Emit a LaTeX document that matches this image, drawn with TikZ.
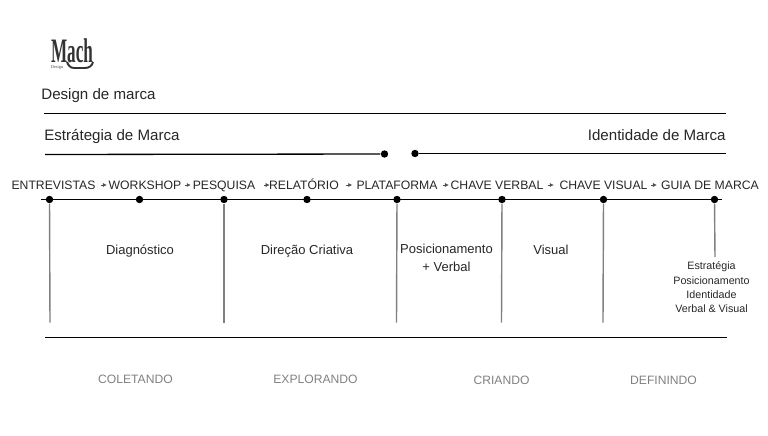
\documentclass[tikz,border=0pt]{standalone}
\usepackage{fontspec}
\usetikzlibrary{arrows.meta}
\setmainfont{Liberation Sans}
\newfontfamily\logofont{Liberation Serif}
\tikzset{>=latex}
\colorlet{txtcol}{black!85}
\colorlet{stemcol}{black!50}
\colorlet{phasecol}{black!50}
\tikzset{
  stage/.style={inner sep=0,anchor=base,text=txtcol,font=\fontsize{6.95}{9}\selectfont},
  head/.style={inner sep=0,text=txtcol,font=\fontsize{8.6}{10}\selectfont},
  note/.style={inner sep=0,text=txtcol,align=center,font=\fontsize{7.4}{10.2}\selectfont},
  phase/.style={inner sep=0,anchor=base,text=phasecol,font=\fontsize{6.9}{9}\selectfont},
  small/.style={inner sep=0,text=txtcol,align=center,font=\fontsize{6.1}{8.2}\selectfont},
  dot/.style={circle,fill=black,inner sep=0,minimum size=4.2pt},
  rulemain/.style={black,line width=0.75pt},
  stem/.style={stemcol,line width=0.8pt},
  step arrow/.style={-{Latex[length=2.2pt,width=2.2pt]},black!70,line width=0.25pt},
}
\begin{document}
\begin{tikzpicture}[x=0.02cm,y=-0.02cm]
  \useasboundingbox (0,0) rectangle (768,436);

  % LOGO
  \node[inner sep=0,anchor=base,text=black!80,font=\logofont\bfseries\fontsize{15}{15}\selectfont,xscale=0.65,yscale=1.3]
    (logo) at (72,62) {Mach};
  \node[inner sep=0,anchor=base,text=black!70,font=\logofont\fontsize{2.5}{3}\selectfont]
    (logosub) at (57,68.5) {Design};
  \draw[black!80,line width=1.1pt] (67,62) to[out=-70,in=180] (74,68) -- (85,68) to[out=0,in=-100] (93,62);

  % HEADERS
  \node[head,anchor=base west] (design) at (41,99) {Design de marca};
  \node[head,anchor=base west] (estr)   at (44,140) {Estrátegia de Marca};
  \node[head,anchor=base east] (ident)  at (726,140) {Identidade de Marca};

  \coordinate (topL) at (44,113.5);
  \coordinate (topR) at (726,113.5);
  \coordinate (estrL) at (45,154.5);
  \coordinate (identR) at (726,153.5);
  \node[dot] (estrE)  at (384.5,154) {};
  \node[dot] (identE) at (415,153.5) {};
  \draw[rulemain] (topL) -- (topR);
  \draw[rulemain] (estrL) -- (estrE);
  \draw[rulemain] (identE) -- (identR);

  % STAGES
  \node[stage] (s1) at (53.5,189.5) {ENTREVISTAS};
  \node[stage] (s2) at (145,189.5) {WORKSHOP};
  \node[stage] (s3) at (224,189.5) {PESQUISA};
  \node[stage] (s4) at (304,189.5) {RELATÓRIO};
  \node[stage] (s5) at (397,189.5) {PLATAFORMA};
  \node[stage] (s6) at (497,189.5) {CHAVE VERBAL};
  \node[stage] (s7) at (603.5,189.5) {CHAVE VISUAL};
  \node[stage] (s8) at (710,189.5) {GUIA DE MARCA};
  \foreach \from/\gap in {s1/5,s2/3,s3/8,s4/7,s5/5,s6/4,s7/3}{
    \draw[step arrow] (\from.base east) ++(\gap,-4.5) -- ++(6,0);
  }

  % TIMELINE
  \coordinate (lineL) at (41,199.5);
  \coordinate (lineR) at (722,199.5);
  \draw[rulemain] (lineL) -- (lineR);
  \foreach \name/\x in {a/49.5,b/139.5,c/224,d/307,e/397,f/502,g/603.5,h/714.5}{
    \node[dot] (\name) at (\x,199.5) {};
  }
  \foreach \name/\x/\yy in {a/50/322.5,c/224/322.5,e/396.5/322.5,f/501.5/322.5,g/603/322.5,h/715/257}{
    \coordinate (\name end) at (\x,\yy);
    \draw[stem] (\name) -- (\name end);
  }

  % NOTES
  \node[note,anchor=base] (n1) at (140,254) {Diagnóstico};
  \node[note,anchor=base] (n2) at (307,254) {Direção Criativa};
  \node[note,anchor=north] (n3) at (446.5,244) {Posicionamento\\+ Verbal};
  \node[note,anchor=base] (n4) at (551,254) {Visual};
  \node[small,anchor=north] (n5) at (711.5,261.5) {Estratégia\\Posicionamento\\Identidade\\Verbal \& Visual};

  % BOTTOM
  \coordinate (botL) at (45,337.5);
  \coordinate (botR) at (727,337.5);
  \draw[rulemain] (botL) -- (botR);
  \node[phase] (p1) at (135.5,383) {COLETANDO};
  \node[phase] (p2) at (315.5,383) {EXPLORANDO};
  \node[phase] (p3) at (501.5,384) {CRIANDO};
  \node[phase] (p4) at (663.5,384) {DEFININDO};
\end{tikzpicture}
\end{document}
